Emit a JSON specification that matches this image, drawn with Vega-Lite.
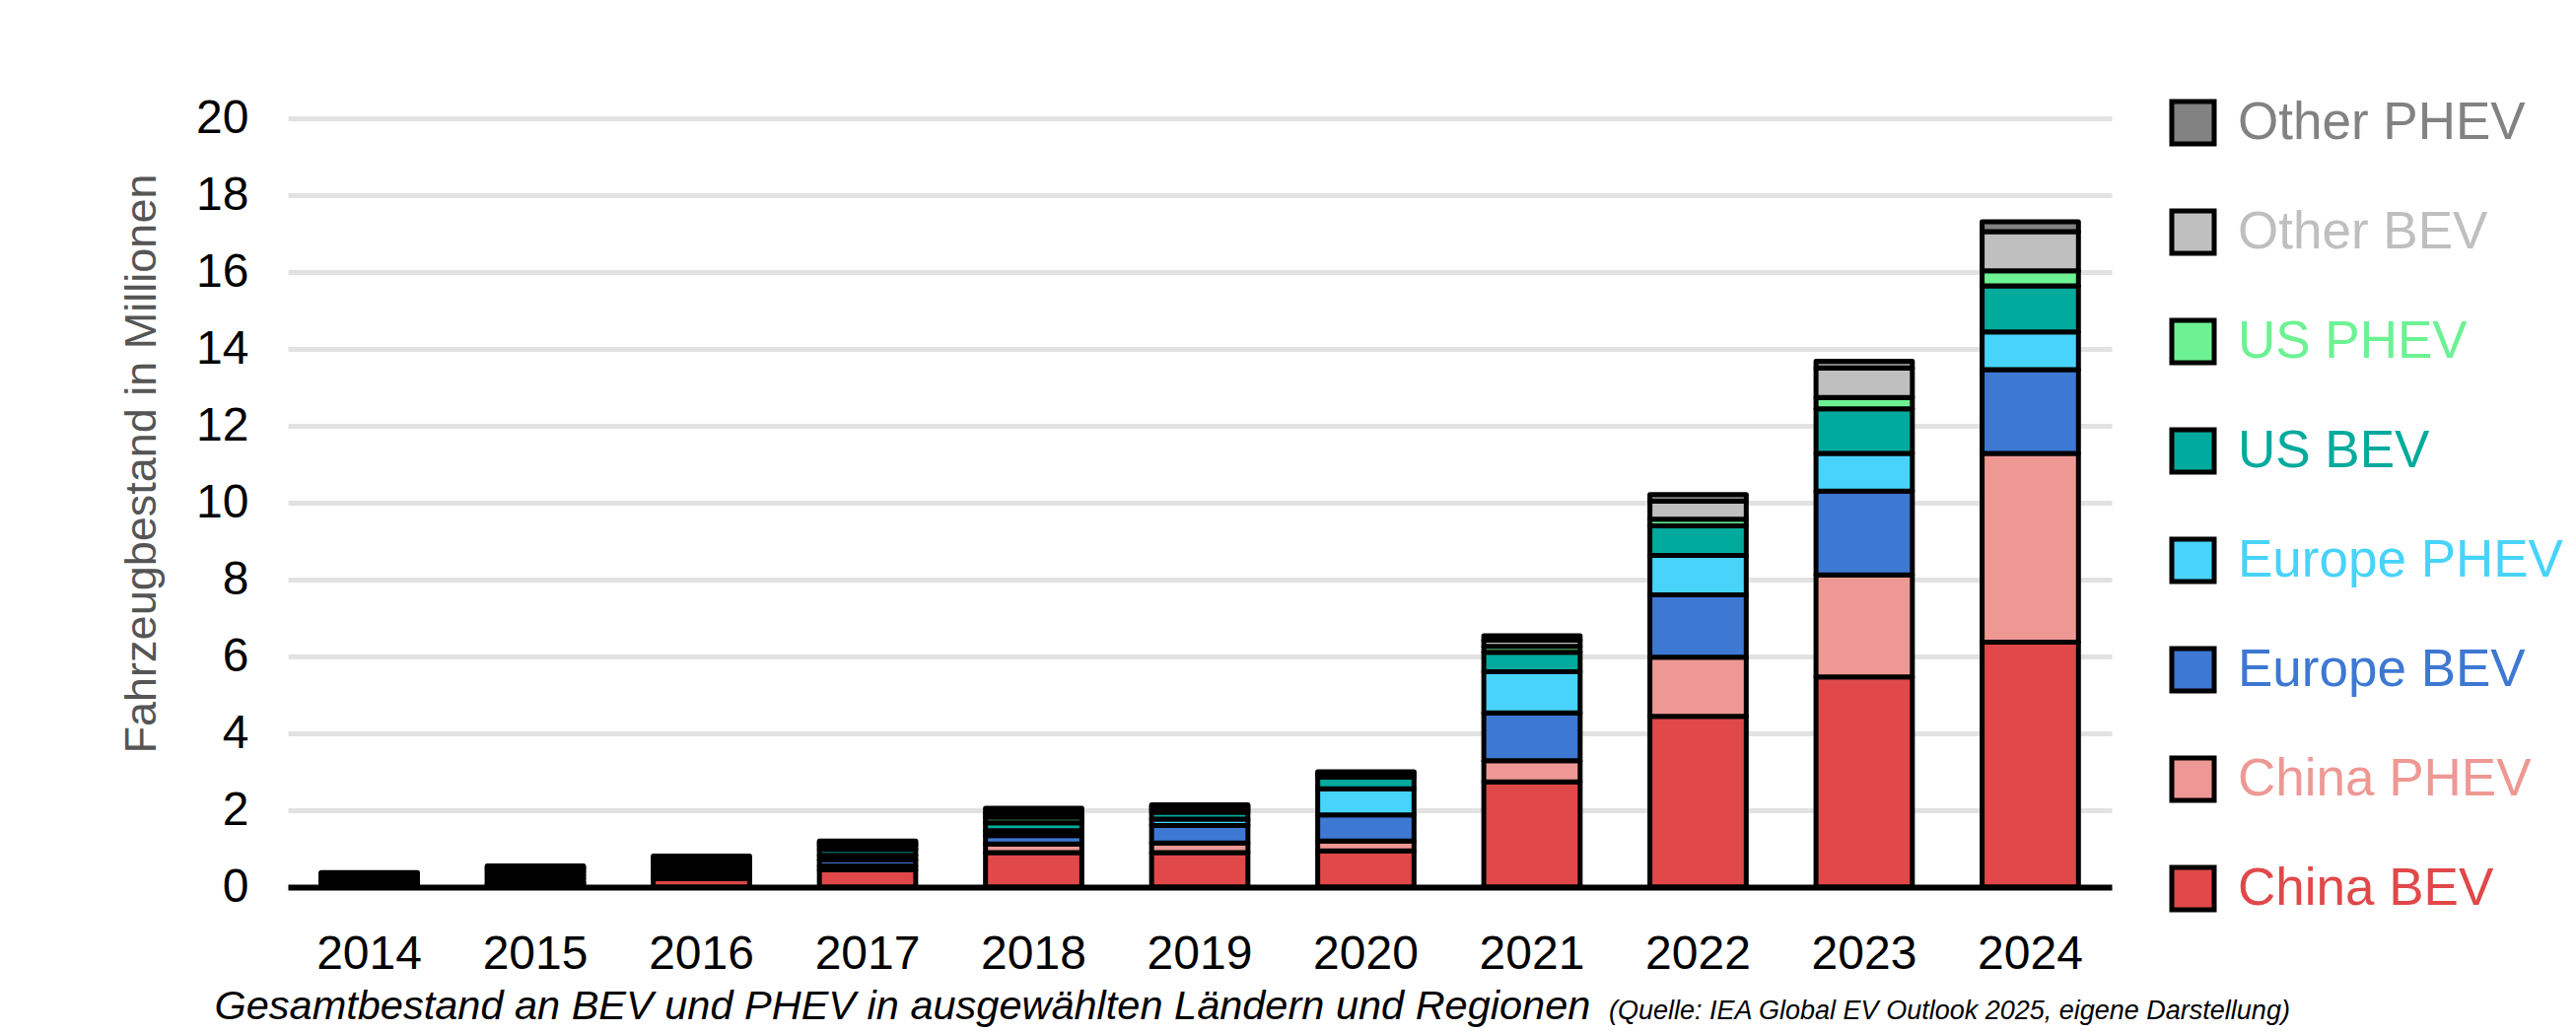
{
  "$schema": "https://vega.github.io/schema/vega-lite/v6.json",
  "width": 1850,
  "height": 780,
  "autosize": {"type": "none"},
  "padding": {"left": 292, "top": 120, "right": 471, "bottom": 147},
  "background": "white",
  "config": {
    "view": {"stroke": null},
    "font": "Liberation Sans"
  },
  "title": {
    "text": "(Quelle: IEA Global EV Outlook 2025, eigene Darstellung)",
    "orient": "bottom",
    "anchor": "start",
    "frame": "group",
    "font": "Liberation Sans",
    "fontStyle": "italic",
    "fontWeight": "normal",
    "fontSize": 27,
    "color": "#000000",
    "dx": 1340,
    "dy": -29,
    "offset": 0
  },
  "data": {
    "values": [
      {"year": "2014", "series": "China BEV", "o": 1, "value": 0.03},
      {"year": "2014", "series": "China PHEV", "o": 2, "value": 0.02},
      {"year": "2014", "series": "Europe BEV", "o": 3, "value": 0.08},
      {"year": "2014", "series": "Europe PHEV", "o": 4, "value": 0.05},
      {"year": "2014", "series": "US BEV", "o": 5, "value": 0.08},
      {"year": "2014", "series": "US PHEV", "o": 6, "value": 0.06},
      {"year": "2014", "series": "Other BEV", "o": 7, "value": 0.03},
      {"year": "2014", "series": "Other PHEV", "o": 8, "value": 0.03},
      {"year": "2015", "series": "China BEV", "o": 1, "value": 0.08},
      {"year": "2015", "series": "China PHEV", "o": 2, "value": 0.05},
      {"year": "2015", "series": "Europe BEV", "o": 3, "value": 0.1},
      {"year": "2015", "series": "Europe PHEV", "o": 4, "value": 0.07},
      {"year": "2015", "series": "US BEV", "o": 5, "value": 0.1},
      {"year": "2015", "series": "US PHEV", "o": 6, "value": 0.07},
      {"year": "2015", "series": "Other BEV", "o": 7, "value": 0.04},
      {"year": "2015", "series": "Other PHEV", "o": 8, "value": 0.04},
      {"year": "2016", "series": "China BEV", "o": 1, "value": 0.22},
      {"year": "2016", "series": "China PHEV", "o": 2, "value": 0.05},
      {"year": "2016", "series": "Europe BEV", "o": 3, "value": 0.12},
      {"year": "2016", "series": "Europe PHEV", "o": 4, "value": 0.1},
      {"year": "2016", "series": "US BEV", "o": 5, "value": 0.12},
      {"year": "2016", "series": "US PHEV", "o": 6, "value": 0.08},
      {"year": "2016", "series": "Other BEV", "o": 7, "value": 0.06},
      {"year": "2016", "series": "Other PHEV", "o": 8, "value": 0.06},
      {"year": "2017", "series": "China BEV", "o": 1, "value": 0.45},
      {"year": "2017", "series": "China PHEV", "o": 2, "value": 0.1},
      {"year": "2017", "series": "Europe BEV", "o": 3, "value": 0.16},
      {"year": "2017", "series": "Europe PHEV", "o": 4, "value": 0.12},
      {"year": "2017", "series": "US BEV", "o": 5, "value": 0.15},
      {"year": "2017", "series": "US PHEV", "o": 6, "value": 0.1},
      {"year": "2017", "series": "Other BEV", "o": 7, "value": 0.06},
      {"year": "2017", "series": "Other PHEV", "o": 8, "value": 0.06},
      {"year": "2018", "series": "China BEV", "o": 1, "value": 0.9},
      {"year": "2018", "series": "China PHEV", "o": 2, "value": 0.22},
      {"year": "2018", "series": "Europe BEV", "o": 3, "value": 0.22},
      {"year": "2018", "series": "Europe PHEV", "o": 4, "value": 0.13},
      {"year": "2018", "series": "US BEV", "o": 5, "value": 0.2},
      {"year": "2018", "series": "US PHEV", "o": 6, "value": 0.15},
      {"year": "2018", "series": "Other BEV", "o": 7, "value": 0.1},
      {"year": "2018", "series": "Other PHEV", "o": 8, "value": 0.13},
      {"year": "2019", "series": "China BEV", "o": 1, "value": 0.9},
      {"year": "2019", "series": "China PHEV", "o": 2, "value": 0.25},
      {"year": "2019", "series": "Europe BEV", "o": 3, "value": 0.45},
      {"year": "2019", "series": "Europe PHEV", "o": 4, "value": 0.17},
      {"year": "2019", "series": "US BEV", "o": 5, "value": 0.18},
      {"year": "2019", "series": "US PHEV", "o": 6, "value": 0.07},
      {"year": "2019", "series": "Other BEV", "o": 7, "value": 0.07},
      {"year": "2019", "series": "Other PHEV", "o": 8, "value": 0.05},
      {"year": "2020", "series": "China BEV", "o": 1, "value": 0.94},
      {"year": "2020", "series": "China PHEV", "o": 2, "value": 0.26},
      {"year": "2020", "series": "Europe BEV", "o": 3, "value": 0.68},
      {"year": "2020", "series": "Europe PHEV", "o": 4, "value": 0.68},
      {"year": "2020", "series": "US BEV", "o": 5, "value": 0.3},
      {"year": "2020", "series": "US PHEV", "o": 6, "value": 0.05},
      {"year": "2020", "series": "Other BEV", "o": 7, "value": 0.05},
      {"year": "2020", "series": "Other PHEV", "o": 8, "value": 0.04},
      {"year": "2021", "series": "China BEV", "o": 1, "value": 2.74},
      {"year": "2021", "series": "China PHEV", "o": 2, "value": 0.55},
      {"year": "2021", "series": "Europe BEV", "o": 3, "value": 1.24},
      {"year": "2021", "series": "Europe PHEV", "o": 4, "value": 1.07},
      {"year": "2021", "series": "US BEV", "o": 5, "value": 0.51},
      {"year": "2021", "series": "US PHEV", "o": 6, "value": 0.15},
      {"year": "2021", "series": "Other BEV", "o": 7, "value": 0.16},
      {"year": "2021", "series": "Other PHEV", "o": 8, "value": 0.12},
      {"year": "2022", "series": "China BEV", "o": 1, "value": 4.44},
      {"year": "2022", "series": "China PHEV", "o": 2, "value": 1.54},
      {"year": "2022", "series": "Europe BEV", "o": 3, "value": 1.62},
      {"year": "2022", "series": "Europe PHEV", "o": 4, "value": 1.03},
      {"year": "2022", "series": "US BEV", "o": 5, "value": 0.77},
      {"year": "2022", "series": "US PHEV", "o": 6, "value": 0.17},
      {"year": "2022", "series": "Other BEV", "o": 7, "value": 0.47},
      {"year": "2022", "series": "Other PHEV", "o": 8, "value": 0.17},
      {"year": "2023", "series": "China BEV", "o": 1, "value": 5.47},
      {"year": "2023", "series": "China PHEV", "o": 2, "value": 2.65},
      {"year": "2023", "series": "Europe BEV", "o": 3, "value": 2.18},
      {"year": "2023", "series": "Europe PHEV", "o": 4, "value": 0.98},
      {"year": "2023", "series": "US BEV", "o": 5, "value": 1.16},
      {"year": "2023", "series": "US PHEV", "o": 6, "value": 0.3},
      {"year": "2023", "series": "Other BEV", "o": 7, "value": 0.76},
      {"year": "2023", "series": "Other PHEV", "o": 8, "value": 0.18},
      {"year": "2024", "series": "China BEV", "o": 1, "value": 6.37},
      {"year": "2024", "series": "China PHEV", "o": 2, "value": 4.91},
      {"year": "2024", "series": "Europe BEV", "o": 3, "value": 2.18},
      {"year": "2024", "series": "Europe PHEV", "o": 4, "value": 0.98},
      {"year": "2024", "series": "US BEV", "o": 5, "value": 1.2},
      {"year": "2024", "series": "US PHEV", "o": 6, "value": 0.39},
      {"year": "2024", "series": "Other BEV", "o": 7, "value": 1.02},
      {"year": "2024", "series": "Other PHEV", "o": 8, "value": 0.26}
    ]
  },
  "mark": {"type": "bar", "stroke": "#000000", "strokeWidth": 5, "strokeJoin": "round"},
  "encoding": {
    "x": {
      "field": "year",
      "type": "ordinal",
      "scale": {"paddingInner": 0.42, "paddingOuter": 0.2},
      "axis": {
        "labelAngle": 0,
        "labelFontSize": 48,
        "labelColor": "#000000",
        "labelFont": "Liberation Sans",
        "labelPadding": 44,
        "ticks": false,
        "domain": true,
        "domainColor": "#000000",
        "domainWidth": 6,
        "grid": false,
        "zindex": 1,
        "title": "Gesamtbestand an BEV und PHEV in ausgewählten Ländern und Regionen",
        "titleFont": "Liberation Sans",
        "titleFontStyle": "italic",
        "titleFontWeight": "normal",
        "titleFontSize": 41.5,
        "titleColor": "#000000",
        "titleAlign": "left",
        "titleAnchor": "start",
        "titleBaseline": "alphabetic",
        "titleX": -75,
        "titleY": 133
      }
    },
    "y": {
      "field": "value",
      "type": "quantitative",
      "stack": "zero",
      "scale": {"domain": [0, 20], "nice": false},
      "axis": {
        "values": [0, 2, 4, 6, 8, 10, 12, 14, 16, 18, 20],
        "labelFontSize": 48,
        "labelColor": "#000000",
        "labelFont": "Liberation Sans",
        "labelPadding": 40,
        "ticks": false,
        "domain": false,
        "grid": true,
        "gridColor": "#e2e2e2",
        "gridWidth": 5,
        "title": "Fahrzeugbestand in Millionen",
        "titleFont": "Liberation Sans",
        "titleFontWeight": "normal",
        "titleFontSize": 45,
        "titleColor": "#555555",
        "titleAngle": -90,
        "titleBaseline": "middle",
        "titleAlign": "center",
        "titleX": -149,
        "titleY": 350
      }
    },
    "color": {
      "field": "series",
      "type": "nominal",
      "scale": {
        "domain": ["Other PHEV", "Other BEV", "US PHEV", "US BEV", "Europe PHEV", "Europe BEV", "China PHEV", "China BEV"],
        "range": ["#828282", "#bfbfbf", "#6cf293", "#00aa9c", "#47d3fa", "#3d78d2", "#ee9894", "#e04849"]
      },
      "legend": {
        "title": null,
        "orient": "none",
        "legendX": 1906,
        "legendY": -22,
        "symbolType": "square",
        "symbolSize": 1850,
        "symbolStrokeColor": "#000000",
        "symbolStrokeWidth": 5,
        "symbolOpacity": 1,
        "labelFontSize": 53,
        "labelFont": "Liberation Sans",
        "labelOffset": 19,
        "labelLimit": 600,
        "rowPadding": 46,
        "encode": {
          "labels": {"update": {"fill": {"scale": "color", "field": "value"}}}
        }
      }
    },
    "order": {"field": "o", "type": "quantitative", "sort": "ascending"}
  }
}
